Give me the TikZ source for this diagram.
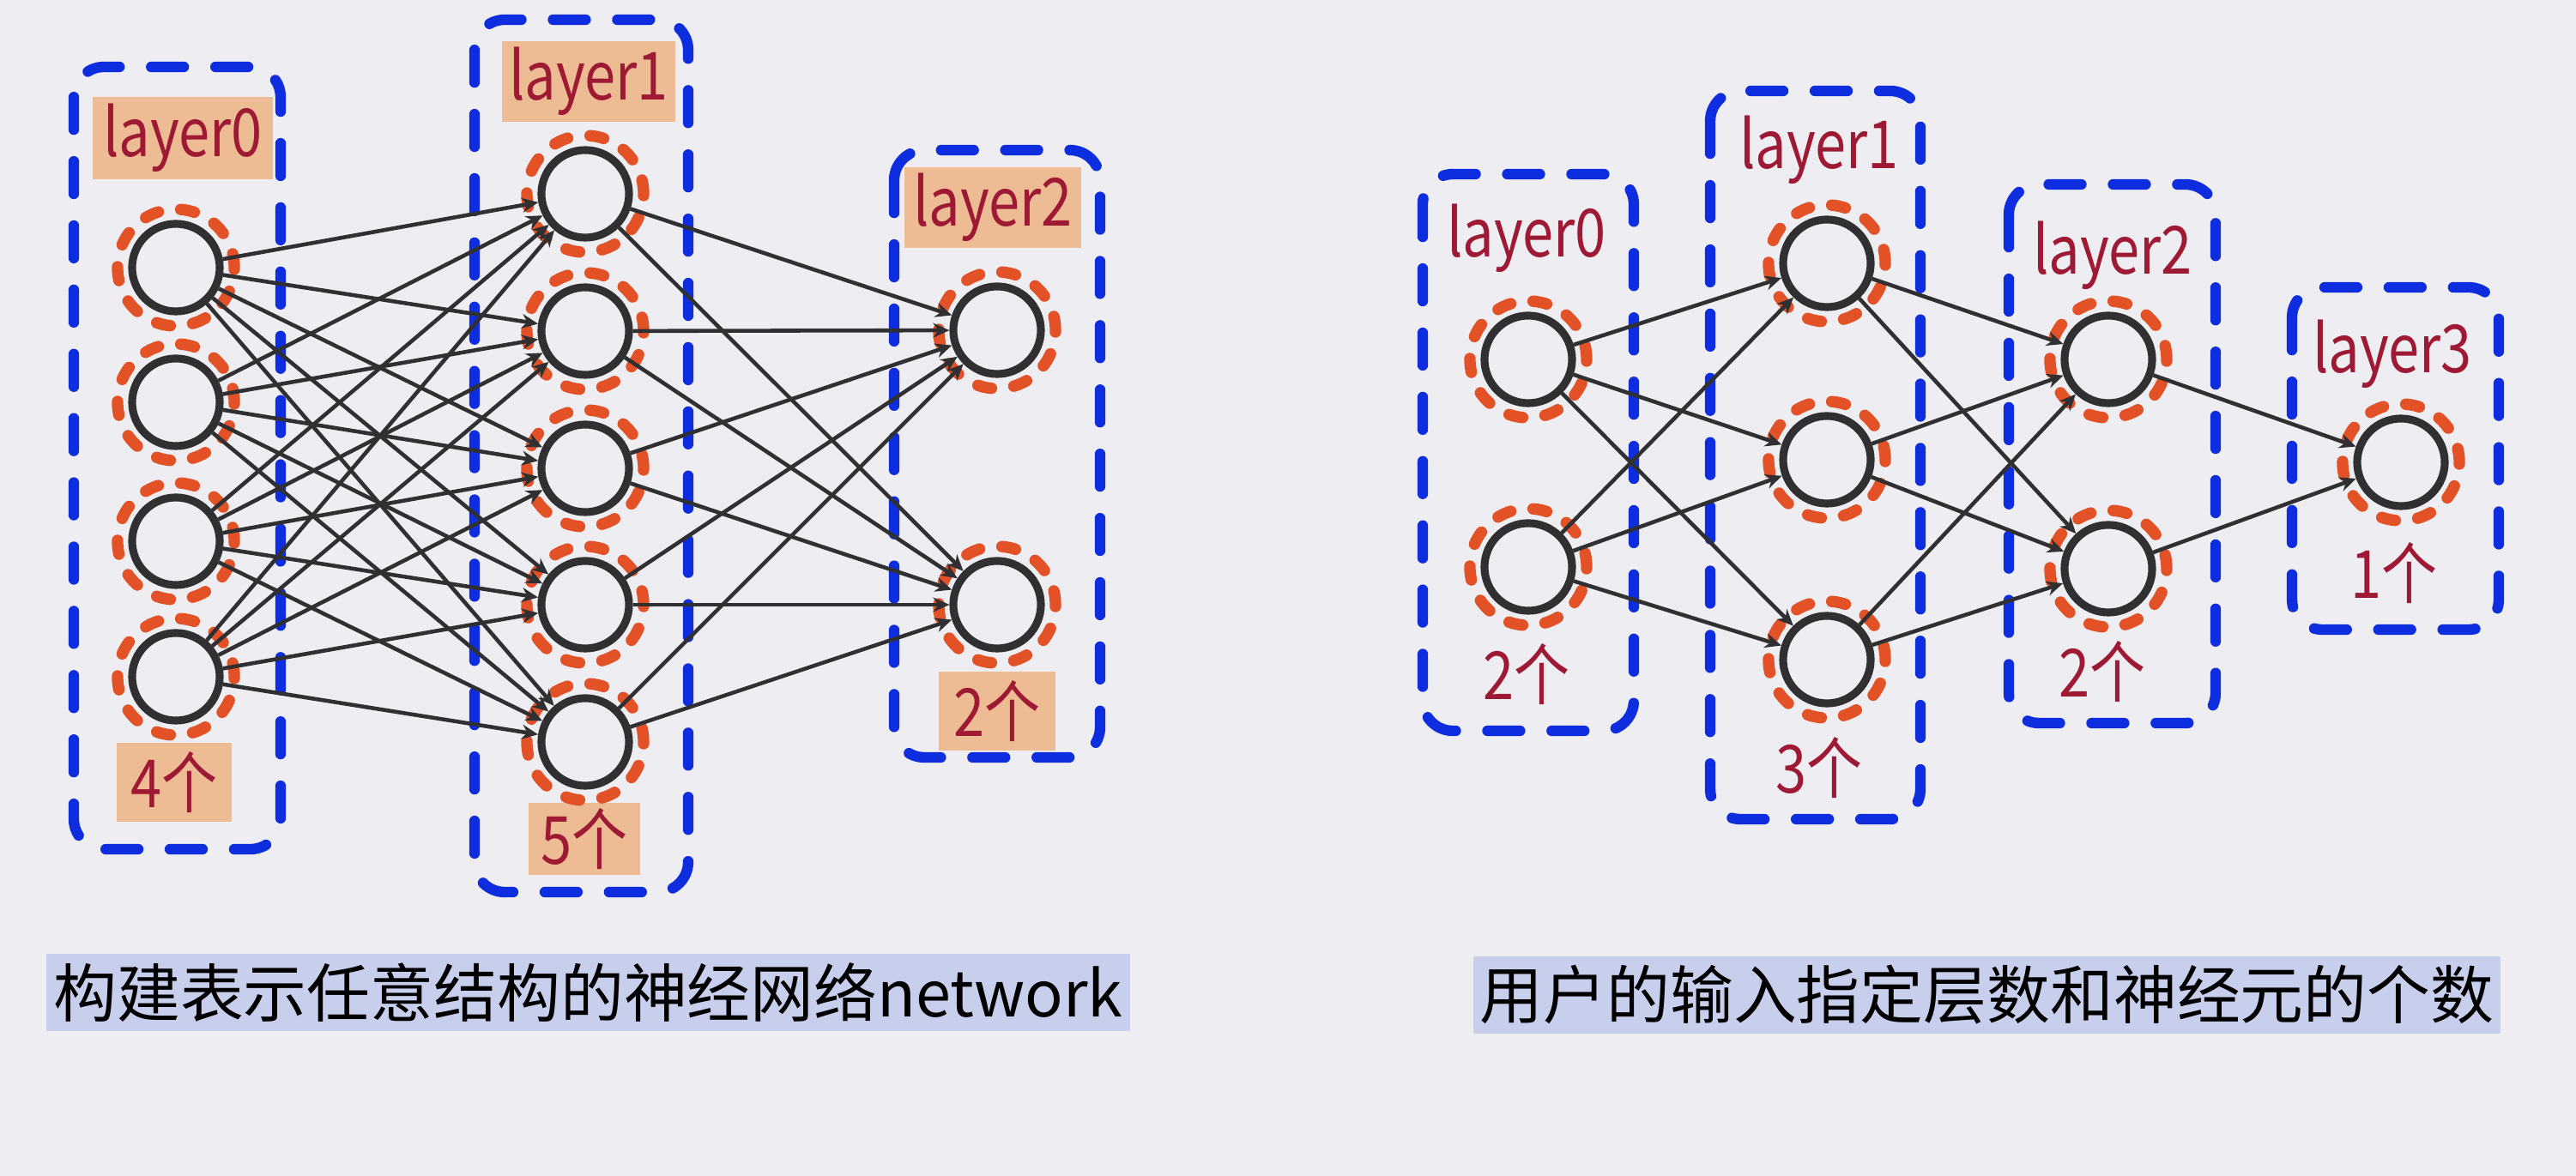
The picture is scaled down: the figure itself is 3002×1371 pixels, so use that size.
\documentclass[tikz,border=0pt]{standalone}
\usepackage{fontspec}
\setmainfont{Noto Sans CJK SC}
\newfontfamily\tagfont[FakeStretch=0.84]{Noto Sans CJK SC}
\usetikzlibrary{arrows.meta}
\definecolor{nnbg}{RGB}{238,237,241}
\definecolor{nnblue}{RGB}{14,45,222}
\definecolor{nnorange}{RGB}{226,82,38}
\definecolor{nngray}{RGB}{48,48,50}
\definecolor{nnred}{RGB}{158,26,52}
\definecolor{nntag}{RGB}{238,188,148}
\definecolor{nncap}{RGB}{199,207,236}

\begin{document}
\begin{tikzpicture}[x=0.01cm, y=-0.01cm,
      neuron/.style={circle, draw=nngray, line width=2.6pt, minimum size=1.02cm, inner sep=0pt},
      ring/.style={draw=nnorange, line width=3.8pt, dash pattern=on 4.6pt off 7.5pt, line cap=round},
      grp/.style={draw=nnblue, line width=3.5pt, rounded corners=10pt, dash pattern=on 10.8pt off 10.5pt, line cap=round},
      tag/.style={fill=nntag, text=nnred, font=\tagfont\fontsize{22}{26}\selectfont, inner sep=0pt},
      lbl/.style={text=nnred, font=\tagfont\fontsize{22}{26}\selectfont, inner sep=0pt},
      link/.style={-{Stealth[length=1.9mm, width=1.7mm]}, line width=1.3pt, draw=nngray},
      caption/.style={fill=nncap, font=\fontsize{21}{25}\selectfont, inner sep=0pt, minimum height=0.9cm}
    ]
      \fill[nnbg] (0,0) rectangle (3002,1371);

      % Left network: 4 - 5 - 2
      \draw[grp] (86,78) rectangle (327,990);
      \draw[grp] (553,23) rectangle (802,1040);
      \draw[grp] (1042,175) rectangle (1282,883);
      \node[tag, minimum width=2.1cm, minimum height=0.95cm] (la0) at (213,161) {layer0};
      \node[tag, minimum width=2.02cm, minimum height=0.93cm] (la1) at (686,95) {layer1};
      \node[tag, minimum width=2.06cm, minimum height=0.94cm] (la2) at (1157,242) {layer2};
      \node[tag, minimum width=1.33cm, minimum height=0.91cm] (na0) at (203,912) {4个};
      \node[tag, minimum width=1.30cm, minimum height=0.83cm] (na1) at (681,978) {5个};
      \node[tag, minimum width=1.35cm, minimum height=0.92cm] (na2) at (1162,829) {2个};
      \foreach \y [count=\i] in {312,469,631,789} \node[neuron] (a\i) at (205,\y) {};
      \foreach \y [count=\i] in {226,386,546,705,865} \node[neuron] (b\i) at (682,\y) {};
      \foreach \y [count=\i] in {385,705} \node[neuron] (c\i) at (1162,\y) {};

      % Right network: 2 - 3 - 2 - 1
      \draw[grp] (1658,203) rectangle (1904,852);
      \draw[grp] (1993,106) rectangle (2238,955);
      \draw[grp] (2341,215) rectangle (2582,843);
      \draw[grp] (2671,335) rectangle (2912,734);
      \node[lbl] (lp) at (1779,278) {layer0};
      \node[lbl] (lq) at (2120,175) {layer1};
      \node[lbl] (lr) at (2462,298) {layer2};
      \node[lbl] (ls) at (2788,413) {layer3};
      \node[lbl] (np) at (1779,786) {2个};
      \node[lbl] (nq) at (2120,895) {3个};
      \node[lbl] (nr) at (2450,783) {2个};
      \node[lbl] (ns) at (2790,668) {1个};
      \foreach \y [count=\i] in {419,661} \node[neuron] (p\i) at (1781,\y) {};
      \foreach \y [count=\i] in {307,536,769} \node[neuron] (q\i) at (2129,\y) {};
      \foreach \y [count=\i] in {419,663} \node[neuron] (r\i) at (2457,\y) {};
      \node[neuron] (s1) at (2798,539) {};

      % Dashed rings
      \foreach \n in {a1,a2,a3,a4,b1,b2,b3,b4,b5,c1,c2,p1,p2,q1,q2,q3,r1,r2,s1}
        \draw[ring] (\n) circle[radius=0.68cm];

      % Connections
      \foreach \i in {1,...,4} \foreach \j in {1,...,5} \draw[link] (a\i) -- (b\j);
      \foreach \i in {1,...,5} \foreach \j in {1,2} \draw[link] (b\i) -- (c\j);
      \foreach \i in {1,2} \foreach \j in {1,2,3} \draw[link] (p\i) -- (q\j);
      \foreach \i in {1,2,3} \foreach \j in {1,2} \draw[link] (q\i) -- (r\j);
      \foreach \i in {1,2} \draw[link] (r\i) -- (s1);

      % Captions
      \node[caption, minimum width=12.63cm] (capl) at (685.5,1157) {构建表示任意结构的神经网络network};
      \node[caption, minimum width=11.97cm] (capr) at (2315.5,1160) {用户的输入指定层数和神经元的个数};
    \end{tikzpicture}
\end{document}
